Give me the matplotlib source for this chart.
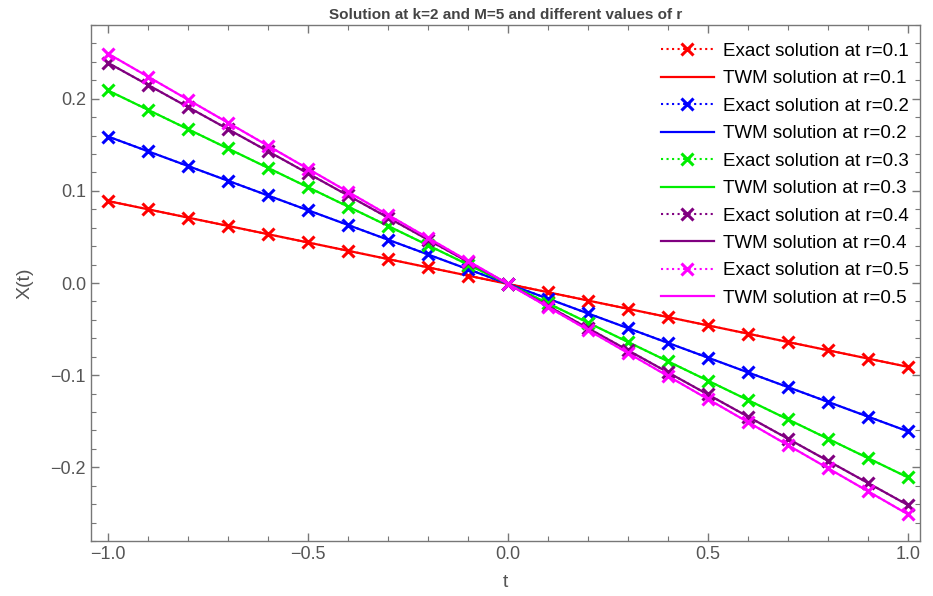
import matplotlib.pyplot as plt
from matplotlib.ticker import MultipleLocator

plt.rcParams['font.family'] = ['Liberation Sans', 'DejaVu Sans']

t = [-1.0, -0.9, -0.8, -0.7, -0.6, -0.5, -0.4, -0.3, -0.2, -0.1, 0.0,
     0.1, 0.2, 0.3, 0.4, 0.5, 0.6, 0.7, 0.8, 0.9, 1.0]

# exact solution values
exact_r01 = [0.089, 0.080, 0.071, 0.062, 0.053, 0.044, 0.035, 0.026, 0.017, 0.008, -0.001,
             -0.010, -0.019, -0.028, -0.037, -0.046, -0.055, -0.064, -0.073, -0.082, -0.091]
exact_r02 = [0.159, 0.143, 0.127, 0.111, 0.095, 0.079, 0.063, 0.047, 0.031, 0.015, -0.001,
             -0.017, -0.033, -0.049, -0.065, -0.081, -0.097, -0.113, -0.129, -0.145, -0.161]
exact_r03 = [0.209, 0.188, 0.167, 0.146, 0.125, 0.104, 0.083, 0.062, 0.041, 0.020, -0.001,
             -0.022, -0.043, -0.064, -0.085, -0.106, -0.127, -0.148, -0.169, -0.190, -0.211]
exact_r04 = [0.239, 0.215, 0.191, 0.167, 0.143, 0.119, 0.095, 0.071, 0.047, 0.023, -0.001,
             -0.025, -0.049, -0.073, -0.097, -0.121, -0.145, -0.169, -0.193, -0.217, -0.241]
exact_r05 = [0.249, 0.224, 0.199, 0.174, 0.149, 0.124, 0.099, 0.074, 0.049, 0.024, -0.001,
             -0.026, -0.051, -0.076, -0.101, -0.126, -0.151, -0.176, -0.201, -0.226, -0.251]

# TWM solution is indistinguishable from the exact one at this scale
twm_r01 = exact_r01
twm_r02 = exact_r02
twm_r03 = exact_r03
twm_r04 = exact_r04
twm_r05 = exact_r05

r_labels = ["0.1", "0.2", "0.3", "0.4", "0.5"]
colors = ["#ff0000", "#0000ff", "#00ee00", "#800080", "#ff00ff"]

exact_series = [exact_r01, exact_r02, exact_r03, exact_r04, exact_r05]
twm_series = [twm_r01, twm_r02, twm_r03, twm_r04, twm_r05]

fig = plt.figure(figsize=(9.33, 5.96), dpi=100)
ax = fig.add_axes([0.0975, 0.0923, 0.8885, 0.8657])

for r, c, ex, tw in zip(r_labels, colors, exact_series, twm_series):
    ax.plot(t, ex, linestyle=':', color=c, marker='x', markersize=9,
            markeredgewidth=2.2, linewidth=1.5, label=f"Exact solution at r={r}")
    ax.plot(t, tw, linestyle='-', color=c, linewidth=1.6,
            label=f"TWM solution at r={r}")

ax.set_xlim(-1.0425, 1.03)
ax.set_ylim(-0.280, 0.280)
ax.xaxis.set_major_locator(MultipleLocator(0.5))
ax.xaxis.set_minor_locator(MultipleLocator(0.1))
ax.yaxis.set_major_locator(MultipleLocator(0.1))
ax.yaxis.set_minor_locator(MultipleLocator(0.02))
ax.xaxis.set_major_formatter(plt.FuncFormatter(lambda v, p: f"{v:.1f}".replace("-", "\u2212")))
ax.yaxis.set_major_formatter(plt.FuncFormatter(lambda v, p: f"{v:.1f}".replace("-", "\u2212")))

frame = "#777777"
for s in ax.spines.values():
    s.set_color(frame)
    s.set_linewidth(1.0)
ax.tick_params(which='both', direction='in', top=True, right=True, color=frame,
               labelcolor="#555555", labelsize=13)
ax.tick_params(which='major', length=6, width=1)
ax.tick_params(which='minor', length=3.5, width=0.8)

ax.set_xlabel("t", fontsize=14, color="#555555", labelpad=8)
ax.set_ylabel("X(t)", fontsize=14, color="#555555", labelpad=12)
ax.set_title("Solution at k=2 and M=5 and different values of r", fontsize=11,
             fontweight='bold', color="#444444", pad=4)

ax.legend(loc='upper right', bbox_to_anchor=(0.9958, 0.980), frameon=False,
          fontsize=13.5, handlelength=2.8, labelspacing=0.55, borderaxespad=0.0,
          handletextpad=0.5)

fig.savefig("out.png", dpi=100)
